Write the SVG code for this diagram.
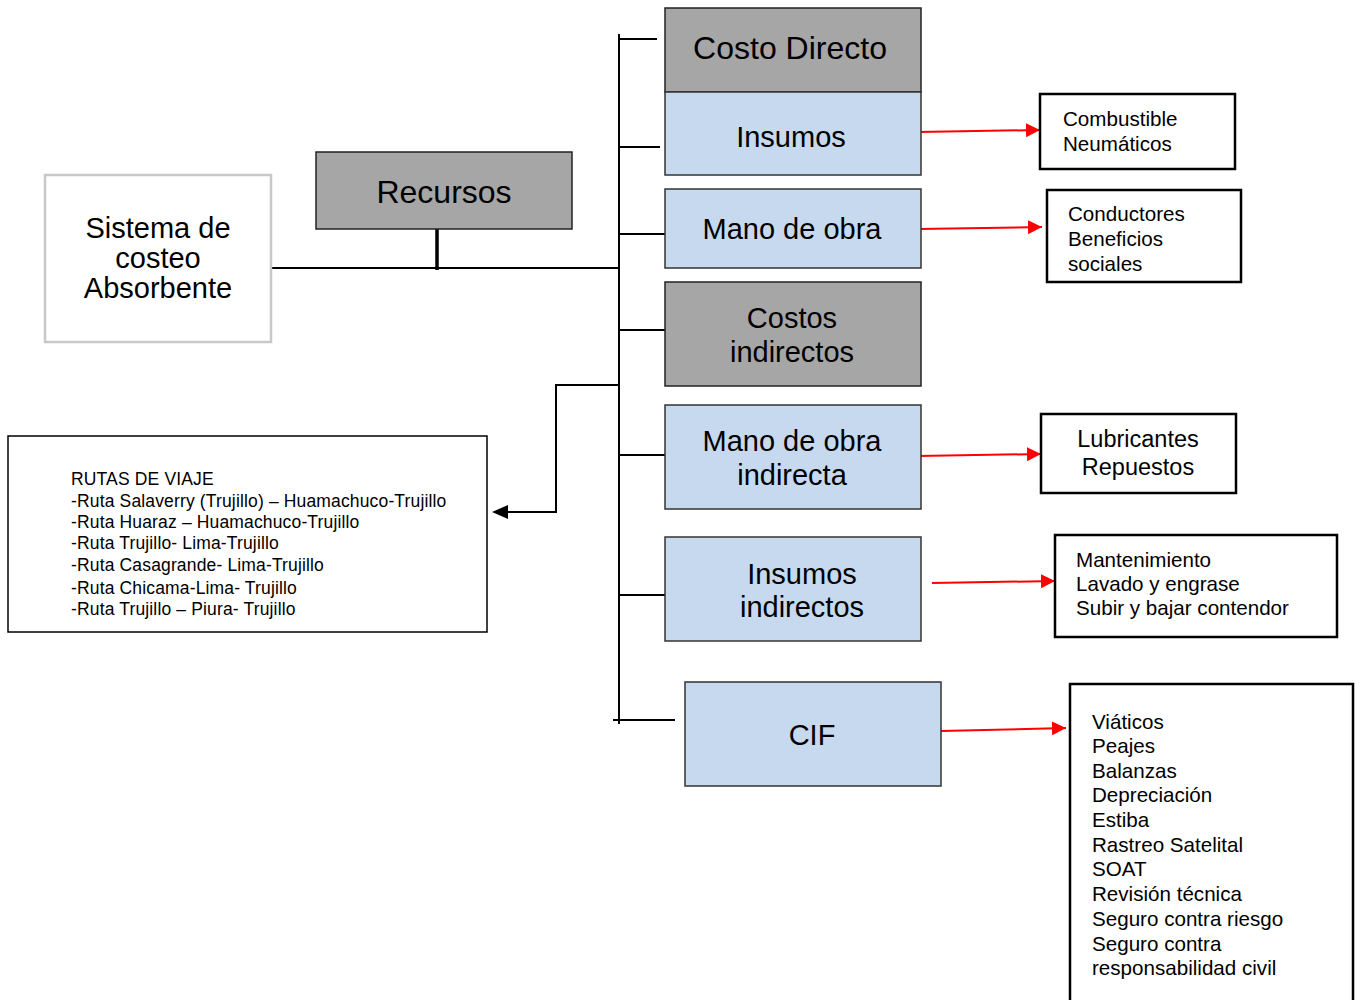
<svg xmlns="http://www.w3.org/2000/svg" width="1361" height="1000" viewBox="0 0 1361 1000">
<defs>
<style>
text{font-family:"Liberation Sans",Arial,sans-serif;fill:#000}
.gray{fill:#a6a6a6;stroke:#222;stroke-width:1.5}
.blue{fill:#c6d9ef;stroke:#333;stroke-width:1.5}
.box{fill:#fff;stroke:#000;stroke-width:2.5}
.big{font-size:29px;text-anchor:middle}
.big32{font-size:32px;text-anchor:middle}
.mid{font-size:20.6px}
.line{stroke:#000;stroke-width:2;fill:none}
.red{stroke:#f00;stroke-width:2;fill:none}
</style>
<marker id="ar" viewBox="0 0 10 10" refX="10" refY="5" markerWidth="14" markerHeight="14" markerUnits="userSpaceOnUse" orient="auto"><path d="M0,0L10,5L0,10z" fill="#f00"/></marker>
</defs>
<rect width="1361" height="1000" fill="#fff"/>
<g id="connectors">
<line class="line" x1="272" y1="268" x2="620" y2="268"/>
<line x1="437" y1="229" x2="437" y2="270" stroke="#000" stroke-width="3.5"/>
<line class="line" x1="619" y1="34" x2="619" y2="724"/>
<line class="line" x1="620" y1="39" x2="657" y2="39"/>
<line class="line" x1="620" y1="147" x2="660" y2="147"/>
<line class="line" x1="620" y1="234" x2="665" y2="234"/>
<line class="line" x1="620" y1="330" x2="665" y2="330"/>
<line class="line" x1="620" y1="455" x2="665" y2="455"/>
<line class="line" x1="620" y1="595" x2="665" y2="595"/>
<line class="line" x1="613" y1="720" x2="675" y2="720"/>
<path class="line" d="M619,385H556V512H508"/>
<path d="M492,512L508,505L508,519z" fill="#000"/>
<line class="red" x1="918" y1="132" x2="1040" y2="130" marker-end="url(#ar)"/>
<line class="red" x1="918" y1="229" x2="1042" y2="227" marker-end="url(#ar)"/>
<line class="red" x1="918" y1="456" x2="1041" y2="454" marker-end="url(#ar)"/>
<line class="red" x1="932" y1="583" x2="1055" y2="581" marker-end="url(#ar)"/>
<line class="red" x1="941" y1="731" x2="1066" y2="728" marker-end="url(#ar)"/>
</g>
<g id="sistema">
<rect x="45" y="175" width="226" height="167" fill="#fff" stroke="#c8c8c8" stroke-width="2.5"/>
<text class="big" x="158" y="238">Sistema de</text>
<text class="big" x="158" y="268">costeo</text>
<text class="big" x="158" y="298">Absorbente</text>
</g>
<g id="recursos">
<rect class="gray" x="316" y="152" width="256" height="77"/>
<text class="big32" x="444" y="203">Recursos</text>
</g>
<g id="costo-directo">
<rect class="gray" x="665" y="8" width="256" height="84"/>
<text class="big32" x="790" y="59">Costo Directo</text>
</g>
<g id="insumos">
<rect class="blue" x="665" y="92" width="256" height="83"/>
<text class="big" x="791" y="147">Insumos</text>
</g>
<g id="mano-obra">
<rect class="blue" x="665" y="189" width="256" height="79"/>
<text class="big" x="792" y="239">Mano de obra</text>
</g>
<g id="costos-indirectos">
<rect class="gray" x="665" y="282" width="256" height="104"/>
<text class="big" x="792" y="328">Costos</text>
<text class="big" x="792" y="362">indirectos</text>
</g>
<g id="mano-obra-indirecta">
<rect class="blue" x="665" y="405" width="256" height="104"/>
<text class="big" x="792" y="451">Mano de obra</text>
<text class="big" x="792" y="485">indirecta</text>
</g>
<g id="insumos-indirectos">
<rect class="blue" x="665" y="537" width="256" height="104"/>
<text class="big" x="802" y="584">Insumos</text>
<text class="big" x="802" y="617">indirectos</text>
</g>
<g id="cif">
<rect class="blue" x="685" y="682" width="256" height="104"/>
<text class="big" x="812" y="745">CIF</text>
</g>
<g id="rutas">
<rect x="8" y="436" width="479" height="196" fill="#fff" stroke="#000" stroke-width="1.5"/>
<g font-size="17.5" letter-spacing="0.15">
<text x="71" y="485">RUTAS DE VIAJE</text>
<text x="71" y="507">-Ruta Salaverry (Trujillo) – Huamachuco-Trujillo</text>
<text x="71" y="528">-Ruta Huaraz – Huamachuco-Trujillo</text>
<text x="71" y="549">-Ruta Trujillo- Lima-Trujillo</text>
<text x="71" y="571">-Ruta Casagrande- Lima-Trujillo</text>
<text x="71" y="594">-Ruta Chicama-Lima- Trujillo</text>
<text x="71" y="615">-Ruta Trujillo – Piura- Trujillo</text>
</g>
</g>
<g id="combustible">
<rect class="box" x="1040" y="94" width="195" height="75"/>
<text class="mid" x="1063" y="126">Combustible</text>
<text class="mid" x="1063" y="151">Neumáticos</text>
</g>
<g id="conductores">
<rect class="box" x="1047" y="190" width="194" height="92"/>
<text class="mid" x="1068" y="221">Conductores</text>
<text class="mid" x="1068" y="246">Beneficios</text>
<text class="mid" x="1068" y="271">sociales</text>
</g>
<g id="lubricantes">
<rect class="box" x="1041" y="414" width="195" height="79"/>
<text font-size="23.5" text-anchor="middle" x="1138" y="447">Lubricantes</text>
<text font-size="23.5" text-anchor="middle" x="1138" y="475">Repuestos</text>
</g>
<g id="mantenimiento">
<rect class="box" x="1055" y="535" width="282" height="102"/>
<text class="mid" x="1076" y="567">Mantenimiento</text>
<text class="mid" x="1076" y="591">Lavado y engrase</text>
<text class="mid" x="1076" y="615">Subir y bajar contendor</text>
</g>
<g id="cif-lista">
<rect class="box" x="1070" y="684" width="283" height="330"/>
<g class="mid">
<text x="1092" y="729">Viáticos</text>
<text x="1092" y="753">Peajes</text>
<text x="1092" y="778">Balanzas</text>
<text x="1092" y="802">Depreciación</text>
<text x="1092" y="827">Estiba</text>
<text x="1092" y="852">Rastreo Satelital</text>
<text x="1092" y="876">SOAT</text>
<text x="1092" y="901">Revisión técnica</text>
<text x="1092" y="926">Seguro contra riesgo</text>
<text x="1092" y="951">Seguro contra</text>
<text x="1092" y="975">responsabilidad civil</text>
</g>
</g>
</svg>
